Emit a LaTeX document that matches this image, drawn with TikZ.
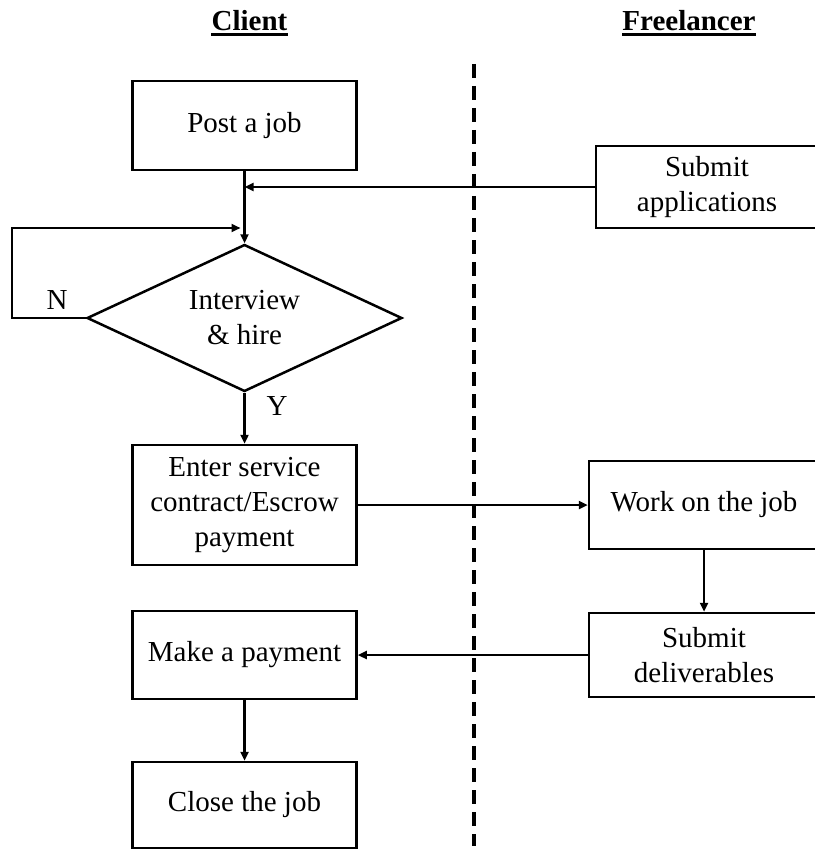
\documentclass[tikz,border=0pt]{standalone}
\usepackage{fontspec}
\setmainfont{Liberation Serif}
\usepackage{tikz}
\usetikzlibrary{shapes.geometric,arrows.meta}
\newcommand\boxfont{\fontsize{29}{35}\selectfont}
\newcommand\headfont{\fontsize{29}{35}\selectfont\bfseries}
\tikzset{
  procbox/.style  = {shape=rectangle, draw, line width=2.5pt, align=center,
                     inner sep=0pt, minimum width=224pt, font=\boxfont},
  decision/.style = {shape=diamond, draw, line width=2.5pt, align=center,
                     inner sep=0pt, aspect=2.14, minimum width=315pt,
                     minimum height=147pt, font=\boxfont},
  lane/.style     = {font=\headfont, inner sep=0pt, anchor=base},
  flow/.style     = {line width=2.5pt, -{Triangle[length=9pt,width=8pt]}},
  answer/.style   = {font=\boxfont}
}

\begin{document}
\begin{tikzpicture}[x=1pt,y=-1pt]
  \useasboundingbox (0,0) rectangle (814,850);

  % lanes
  \node [lane] (client) at (249.5,31) {Client};
  \node [lane] (free)   at (689,31)   {Freelancer};
  \draw [line width=3pt] ([yshift=-4pt]client.base west) -- ([yshift=-4pt]client.base east);
  \draw [line width=3pt] ([yshift=-4pt]free.base west) -- ([yshift=-4pt]free.base east);
  \coordinate (septop) at (474,64);
  \coordinate (sepbot) at (474,846);
  \draw [line width=4pt, dash pattern=on 14pt off 8pt] (septop) -- (sepbot);

  % client side
  \node [procbox, minimum height=89pt]  (post)  at (244.5,125.5) {Post a job};
  \node [decision] (hire) at (244.5,318) {Interview\\ \& hire};
  \node [procbox, minimum height=120pt] (enter) at (244.5,505)
        {Enter service\\ contract/Escrow\\ payment};
  \node [procbox, minimum height=88pt]  (pay)   at (244.5,655) {Make a payment};
  \node [procbox, minimum height=86pt]  (close) at (244.5,805) {Close the job};

  % freelancer side
  \node [procbox, minimum width=222pt, minimum height=82pt] (apps) at (707,187)
        {Submit\\ applications};
  \node [procbox, minimum width=230pt, minimum height=88pt] (work) at (704,505)
        {Work on the job};
  \node [procbox, minimum width=230pt, minimum height=84pt] (deliv) at (704,655)
        {Submit\\ deliverables};

  \node [answer] (no)  at (57,300)  {N};
  \node [answer] (yes) at (277,406) {Y};
  \coordinate (loop) at (244.5,228);

  \draw [flow] (post.south) -- (hire.north);
  \draw [flow] (apps.west) -- (apps.west -| post.south);
  \draw [flow, shorten >=4pt] (hire.west) -- ++(-74,0) |- (loop);
  \draw [flow] (hire.south) -- (enter.north);
  \draw [flow] (enter.east) -- (work.west);
  \draw [flow] (work.south) -- (deliv.north);
  \draw [flow] (deliv.west) -- (pay.east);
  \draw [flow] (pay.south) -- (close.north);
\end{tikzpicture}
\end{document}
